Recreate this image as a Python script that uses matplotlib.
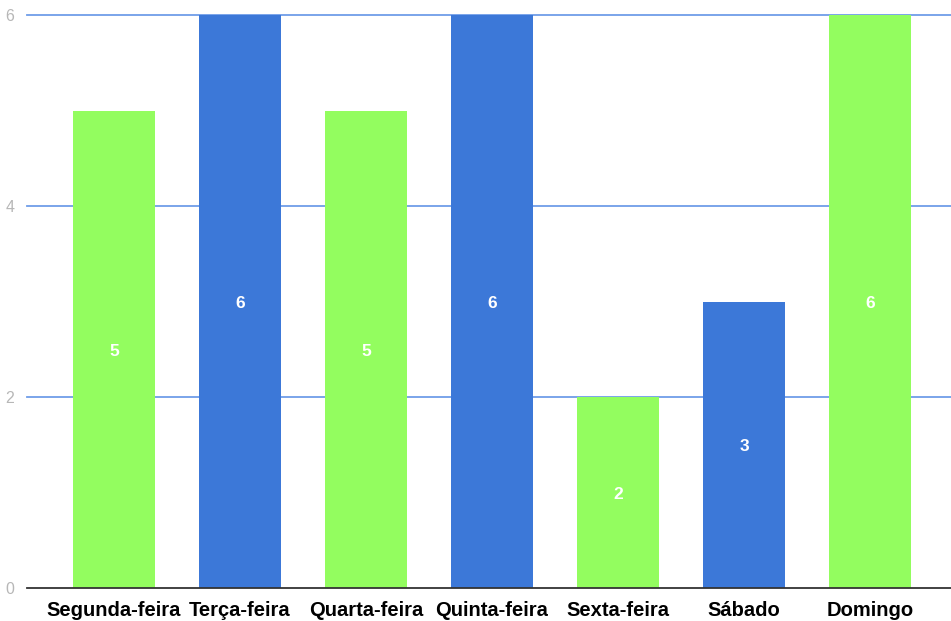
import matplotlib
matplotlib.use("Agg")
import matplotlib.pyplot as plt

categories = ["Segunda-feira", "Terça-feira", "Quarta-feira", "Quinta-feira",
              "Sexta-feira", "Sábado", "Domingo"]
values = [5, 6, 5, 6, 2, 3, 6]
colors = ["#93fd5f", "#3c78d8", "#93fd5f", "#3c78d8", "#93fd5f", "#3c78d8", "#93fd5f"]
yticks = [0, 2, 4, 6]

plt.rcParams['font.family'] = ['Liberation Sans', 'DejaVu Sans']

fig = plt.figure(figsize=(9.51, 6.21), dpi=100)
ax = fig.add_axes([27/951, 33/621, 1 - 27/951, (588-15)/621])

x = list(range(len(categories)))
bars = ax.bar(x, values, width=0.65, color=colors, zorder=3)
for b, v in zip(bars, values):
    ax.text(b.get_x() + b.get_width()/2, v/2 - 0.02, str(v), ha='center', va='center',
            color='white', fontsize=12.5, fontweight='bold', zorder=4)

ax.set_xlim(-0.69, 6.643)
ax.set_ylim(0, 6)
ax.set_yticks(yticks)
ax.set_yticklabels([str(t) for t in yticks])
ax.set_xticks(x)
ax.set_xticklabels(categories, fontsize=14.5, fontweight='bold', color='black')
ax.tick_params(axis='y', length=0, labelsize=11.5, labelcolor='#b7b7b7', pad=9)
ax.tick_params(axis='x', length=0, pad=9)
for t in yticks[1:]:
    ax.axhline(t, color='#6f9de8', linewidth=1.3, zorder=1, clip_on=False)
ax.axhline(0, color='#333333', linewidth=1.3, zorder=5, clip_on=False)
for s in ax.spines.values():
    s.set_visible(False)

fig.savefig("out.png", dpi=100)
